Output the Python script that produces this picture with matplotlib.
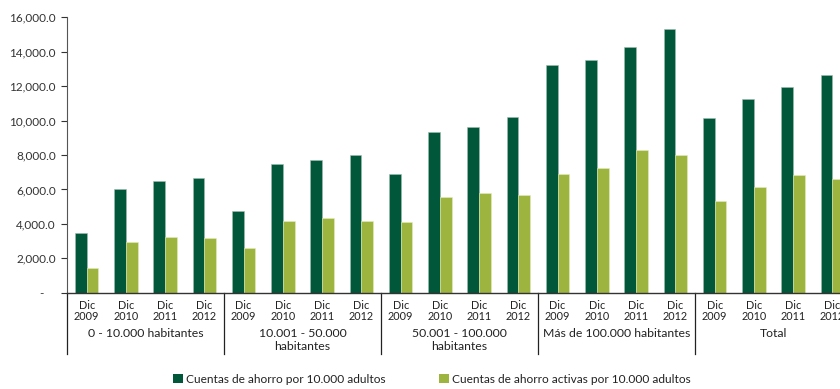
import matplotlib.pyplot as plt
from matplotlib.lines import Line2D
from matplotlib.patches import Patch
from matplotlib.ticker import FuncFormatter
import numpy as np

plt.rcParams['font.family'] = ['Lato', 'DejaVu Sans']

groups = ["0 - 10.000 habitantes", "10.001 - 50.000\nhabitantes",
          "50.001 - 100.000\nhabitantes", "Más de 100.000 habitantes", "Total"]
years = ["Dic\n2009", "Dic\n2010", "Dic\n2011", "Dic\n2012"]

cuentas = [3450, 6040, 6470, 6680,
           4760, 7480, 7710, 7980,
           6910, 9350, 9630, 10210,
           13210, 13500, 14290, 15300,
           10130, 11270, 11930, 12630]
activas = [1420, 2960, 3250, 3180,
           2600, 4180, 4340, 4180,
           4110, 5560, 5770, 5690,
           6910, 7260, 8270, 7980,
           5330, 6120, 6840, 6620]

dark = "#00573a"
light = "#9db43e"

fig = plt.figure(figsize=(8.4, 3.89), dpi=100)
# axes runs past the right edge of the figure, as in the reference (Total group is cut)
ax = fig.add_axes([67 / 840, (389 - 292.7) / 389, 785 / 840, 275.4 / 389])

x = np.arange(len(cuentas))
w = 0.3
ax.bar(x - w / 2, cuentas, w, color=dark, edgecolor="#9fbfae", linewidth=0.4)
ax.bar(x + w / 2, activas, w, color=light, edgecolor="#e2ecc0", linewidth=0.4)

ax.set_xlim(-0.5, len(cuentas) - 0.5)
ax.set_ylim(0, 16000)
ax.set_yticks(np.arange(0, 16001, 2000))
ax.yaxis.set_major_formatter(FuncFormatter(lambda v, p: "-    " if v == 0 else f"{v:,.1f}"))
ax.tick_params(axis="y", labelsize=8.5, length=4, width=0.8, color="#333333",
               labelcolor="#333333", pad=4)

ax.set_xticks(x)
ax.set_xticklabels(years * len(groups), fontsize=7.8, color="#222222", linespacing=1.0)
ax.tick_params(axis="x", length=0, pad=5)

for s in ["top", "right"]:
    ax.spines[s].set_visible(False)
ax.spines["left"].set_color("#555555")
ax.spines["bottom"].set_color("#333333")
ax.spines["left"].set_linewidth(0.8)
ax.spines["bottom"].set_linewidth(1.0)

trans = ax.get_xaxis_transform()
sep_bottom = -(354 - 292.7) / 275.4
for i in range(len(groups)):
    xs = i * 4 - 0.5
    ax.add_line(Line2D([xs, xs], [0, sep_bottom], transform=trans, color="#222222",
                       lw=0.9, clip_on=False))
    ax.text(i * 4 + 1.5, -(328 - 292.7) / 275.4, groups[i], transform=trans,
            ha="center", va="top", fontsize=8.8, color="#222222", linespacing=1.25)

handles = [Patch(facecolor=dark, edgecolor="none"), Patch(facecolor=light, edgecolor="none")]
fig.legend(handles, ["Cuentas de ahorro por 10.000 adultos",
                     "Cuentas de ahorro activas por 10.000 adultos"],
           loc="center", bbox_to_anchor=(0.514, 9.5 / 389), ncol=2, frameon=False,
           fontsize=8.6, handlelength=0.8, handleheight=0.8, handletextpad=0.25,
           columnspacing=4.5, labelcolor="#222222")

fig.savefig("out.png", dpi=100, facecolor="white")
